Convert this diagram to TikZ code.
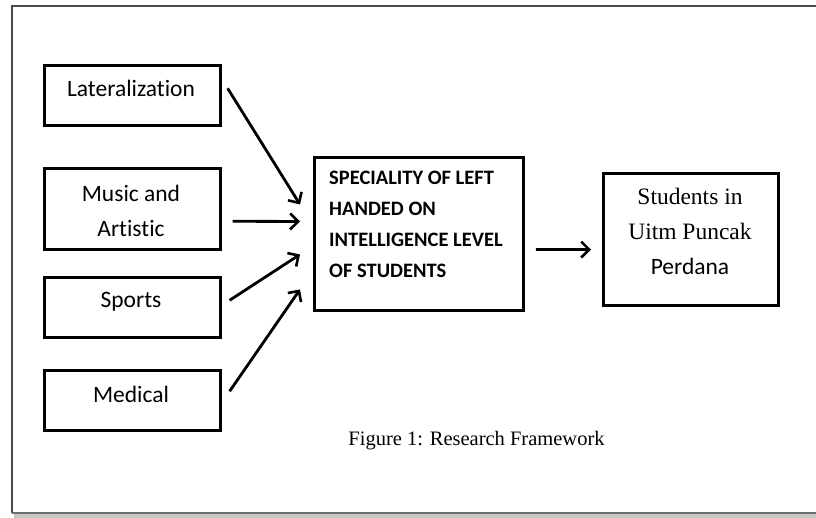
\documentclass[tikz,border=0pt]{standalone}
\usepackage{fontspec}
\setmainfont[Ligatures=NoCommon]{Carlito}
\newfontfamily\tnr{Liberation Serif}
\usetikzlibrary{arrows.meta}
\definecolor{framegray}{HTML}{4A4A4A}
\tikzset{
  box/.style={draw=black, line width=2.6pt, anchor=north west, inner sep=0pt},
  lab/.style={font=\fontsize{23.5}{35}\selectfont, align=center, inner sep=0pt, anchor=base},
  arr/.style={line width=2.8pt, -{Straight Barb[length=8pt,width=16pt,line width=2.6pt]}}
}
\begin{document}
\begin{tikzpicture}[x=1pt,y=-1pt]
\useasboundingbox (0,0) rectangle (816,518);
% frame with shadow
\fill[gray!45] (14,513) rectangle (818,518);
\draw[framegray, line width=1.8pt] (12,513) -- (12,6) -- (818,6);
\draw[framegray!80, line width=1.8pt] (12,513) -- (818,513);
% left boxes
\node[box, minimum width=176pt, minimum height=60pt] (lat) at (43,64) {};
\node[lab] (latt) at (131,97) {Lateralization};
\node[box, minimum width=176pt, minimum height=81pt] (mus) at (43,167) {};
\node[lab] (must) at (131,237) {Music and\\Artistic};
\node[box, minimum width=176pt, minimum height=60pt] (spo) at (43,276) {};
\node[lab] (spot) at (131,308) {Sports};
\node[box, minimum width=176pt, minimum height=60pt] (med) at (43,369) {};
\node[lab] (medt) at (131,402) {Medical};
% centre box
\node[box, line width=2.9pt, minimum width=209pt, minimum height=153pt] (c) at (313,156) {};
\node[anchor=base west, inner sep=0pt, align=left,
      font=\fontsize{20.5}{31}\selectfont\bfseries] (ct) at (329,278)
  {SPECIALITY OF LEFT\\HANDED ON\\INTELLIGENCE LEVEL\\OF STUDENTS};
% right box
\node[box, line width=3.2pt, minimum width=175pt, minimum height=132pt] (r) at (602,172) {};
\node[anchor=base, inner sep=0pt, align=center,
      font=\fontsize{23.5}{35}\selectfont] (rt) at (690,275)
  {{\tnr Students in}\\{\tnr Uitm Puncak}\\Perdana};
% arrows
\draw[arr] ([xshift=6pt,yshift=7pt]lat.east) -- ([xshift=-13pt,yshift=29.5pt]c.west);
\draw[arr] ([xshift=11pt,yshift=-12.5pt]mus.east) -- ([xshift=-13pt,yshift=12.5pt]c.west);
\draw[arr] ([xshift=8pt,yshift=7pt]spo.east) -- ([xshift=-13pt,yshift=-20.5pt]c.west);
\draw[arr] ([xshift=8pt,yshift=9pt]med.east) -- ([xshift=-13pt,yshift=-55.5pt]c.west);
\draw[arr] ([xshift=11pt,yshift=-15.5pt]c.east) -- ([xshift=-11pt,yshift=-10pt]r.west);
% caption
\node[anchor=base, inner sep=0pt, font=\tnr\fontsize{20.5}{24}\selectfont] (cap) at (476.5,445) {Figure 1: Research Framework};
\end{tikzpicture}
\end{document}
